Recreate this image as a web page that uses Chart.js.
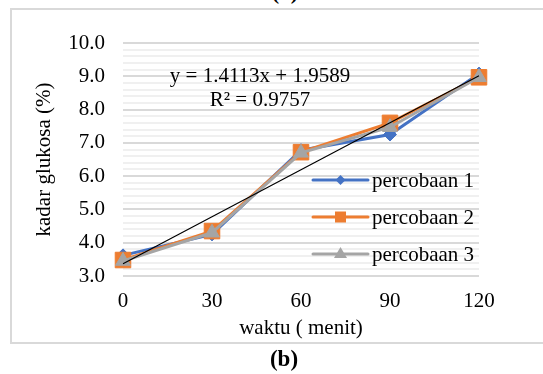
<!DOCTYPE html>
<html>
<head>
<meta charset="utf-8">
<script src="https://cdn.jsdelivr.net/npm/chart.js@4/dist/chart.umd.min.js"></script>
<style>
  html, body { margin:0; padding:0; background:#fff; }
  body { width:543px; height:374px; position:relative; overflow:hidden; font-family:"Liberation Serif","Times New Roman",serif; color:#000; }
  #frame { position:absolute; left:10px; top:8px; width:560px; height:332px; border:2px solid #D9D9D9; box-sizing:content-box; }
  #cv { position:absolute; left:0; top:0; }
  .lbl { position:absolute; white-space:nowrap; transform:translate(-50%,-50%); line-height:1; }
  .eq { font-size:21px; }
  .cap { font-size:23px; font-weight:bold; }
</style>
</head>
<body>
<div id="frame"></div>
<div class="lbl cap" style="left:285px; top:-9px;">(a)</div>
<canvas id="cv" width="543" height="374"></canvas>
<div class="lbl eq" style="left:260px; top:75px;">y = 1.4113x + 1.9589</div>
<div class="lbl eq" style="left:260px; top:99px;">R² = 0.9757</div>
<div class="lbl cap" style="left:284px; top:358px;">(b)</div>
<script>
// ---- data ----
const categories = ['0', '30', '60', '90', '120'];
const seriesNames = ['percobaan 1', 'percobaan 2', 'percobaan 3'];
const percobaan1 = [3.62, 4.25, 6.78, 7.25, 9.08];
const percobaan2 = [3.48, 4.35, 6.72, 7.60, 8.97];
const percobaan3 = [3.45, 4.30, 6.70, 7.47, 8.97];
const trendSlope = 1.4113;
const trendIntercept = 1.9589;
const yMin = 3, yMax = 10, yMinorStep = 0.2;
const xTitle = 'waktu ( menit)';
const yTitle = 'kadar glukosa (%)';

const trendValues = categories.map((c, i) => trendSlope * (i + 1) + trendIntercept);

const FONT = 'Liberation Serif';
const colors = ['#4472C4', '#ED7D31', '#A5A5A5'];

function isMajor(v) { return Math.abs(v - Math.round(v)) < 1e-6; }

const legendPlugin = {
  id: 'customLegend',
  afterDraw(chart) {
    const {ctx, chartArea} = chart;
    const x0 = chartArea.right - 166, x1 = chartArea.right - 111, tx = chartArea.right - 107;
    const y0 = chartArea.top + 137, dy = 37;
    const styles = ['diamond', 'square', 'triangle'];
    ctx.save();
    for (let i = 0; i < 3; i++) {
      const y = y0 + i * dy;
      ctx.strokeStyle = colors[i];
      ctx.lineWidth = 3;
      ctx.lineCap = 'round';
      ctx.beginPath(); ctx.moveTo(x0, y); ctx.lineTo(x1, y); ctx.stroke();
      const cx = (x0 + x1) / 2;
      ctx.fillStyle = colors[i];
      ctx.beginPath();
      if (styles[i] === 'diamond') {
        ctx.moveTo(cx, y - 5); ctx.lineTo(cx + 5, y); ctx.lineTo(cx, y + 5); ctx.lineTo(cx - 5, y);
      } else if (styles[i] === 'square') {
        ctx.rect(cx - 5.5, y - 5.5, 11, 11);
      } else {
        ctx.moveTo(cx, y - 7); ctx.lineTo(cx + 6.5, y + 4); ctx.lineTo(cx - 6.5, y + 4);
      }
      ctx.closePath(); ctx.fill();
      ctx.fillStyle = '#000';
      ctx.font = '21px "' + FONT + '"';
      ctx.textBaseline = 'middle';
      ctx.textAlign = 'left';
      ctx.fillText(seriesNames[i], tx, y + 1);
    }
    ctx.restore();
  }
};

new Chart(document.getElementById('cv'), {
  type: 'line',
  data: {
    labels: categories,
    datasets: [
      { label: seriesNames[0], data: percobaan1, borderColor: colors[0], backgroundColor: colors[0],
        borderWidth: 3, pointStyle: 'rectRot', pointRadius: 6.5, pointBorderWidth: 1, order: 3 },
      { label: seriesNames[1], data: percobaan2, borderColor: colors[1], backgroundColor: colors[1],
        borderWidth: 3, pointStyle: 'rect', pointRadius: 11, pointBorderWidth: 1, order: 2 },
      { label: seriesNames[2], data: percobaan3, borderColor: colors[2], backgroundColor: colors[2],
        borderWidth: 3, pointStyle: 'triangle', pointRadius: 8.5, pointBorderWidth: 1, order: 1 },
      { label: 'trend', data: trendValues, borderColor: '#000', borderWidth: 1.2,
        pointRadius: 0, fill: false, order: 0 }
    ]
  },
  options: {
    responsive: false,
    devicePixelRatio: 1,
    animation: false,
    layout: { padding: { left: 0, right: 64, top: 43, bottom: 0 } },
    plugins: { legend: { display: false }, tooltip: { enabled: false } },
    scales: {
      x: {
        type: 'category',
        offset: false,
        grid: { display: false, drawTicks: false },
        border: { display: false },
        ticks: { color: '#000', padding: 13, font: { family: FONT, size: 21 }, maxRotation: 0 },
        title: { display: true, text: xTitle, color: '#000', font: { family: FONT, size: 21 }, padding: { top: 0, bottom: 33 } },
        afterFit(s) { s.height = 98; }
      },
      y: {
        min: yMin, max: yMax,
        grid: {
          drawTicks: false,
          color: (c) => isMajor(c.tick.value) ? '#D9D9D9' : '#F0F0F0',
          lineWidth: (c) => 2
        },
        border: { display: false },
        ticks: {
          stepSize: yMinorStep, autoSkip: false, color: '#000', padding: 18,
          font: { family: FONT, size: 21 },
          callback: (v) => isMajor(v) ? Number(v).toFixed(1) : ''
        },
        title: { display: true, text: yTitle, color: '#000', font: { family: FONT, size: 21 }, padding: { top: 32, bottom: 0 } },
        afterFit(s) { s.width = 123; }
      }
    }
  },
  plugins: [legendPlugin]
});
</script>
</body>
</html>
